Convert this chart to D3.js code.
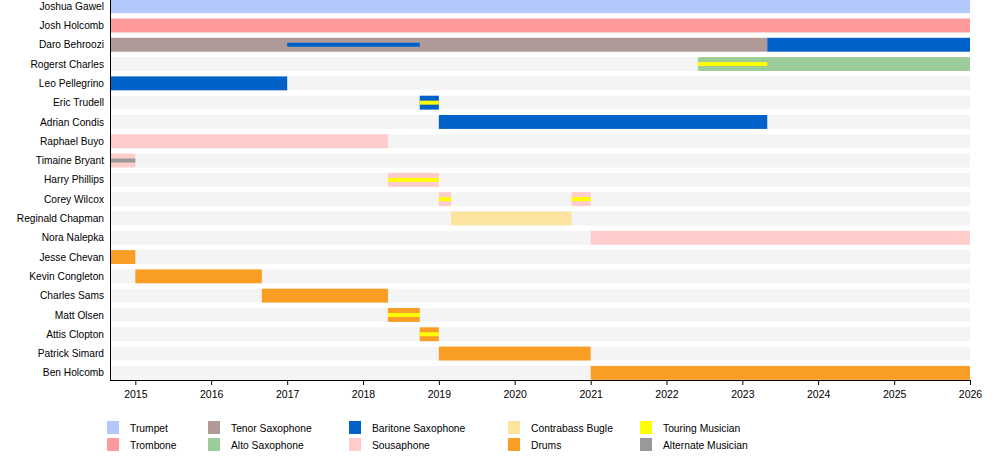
<!DOCTYPE html>
<html>
<head>
<meta charset="utf-8">
<script src="https://cdn.jsdelivr.net/npm/d3@7.9.0/dist/d3.min.js"></script>
<style>
  body { margin: 0; background: #fff; }
  svg { display: block; font-family: "Liberation Sans", Arial, sans-serif; }
  .name { font-size: 10.2px; fill: #000; }
  .axis text { font-size: 10.5px; fill: #000; font-family: "Liberation Sans", Arial, sans-serif; }
  .legend text { font-size: 10.3px; fill: #000; }
</style>
</head>
<body>
<div id="chart"></div>
<script>
// ─── data ───────────────────────────────────────
const members = [
  'Joshua Gawel', 'Josh Holcomb', 'Daro Behroozi', 'Rogerst Charles', 'Leo Pellegrino',
  'Eric Trudell', 'Adrian Condis', 'Raphael Buyo', 'Timaine Bryant', 'Harry Phillips',
  'Corey Wilcox', 'Reginald Chapman', 'Nora Nalepka', 'Jesse Chevan', 'Kevin Congleton',
  'Charles Sams', 'Matt Olsen', 'Attis Clopton', 'Patrick Simard', 'Ben Holcomb'
];

const roles = [
  'Trumpet', 'Trombone', 'Tenor Saxophone', 'Alto Saxophone', 'Baritone Saxophone',
  'Sousaphone', 'Contrabass Bugle', 'Drums', 'Touring Musician', 'Alternate Musician'
];
const roleColors = [
  '#b4c8fc', '#ff9a9a', '#b09a98', '#9ccc9a', '#0062c8',
  '#ffcccc', '#fde49e', '#fa9d24', '#ffff00', '#999999'
];

const timeStart = '2014-09-01';
const timeEnd   = '2026-01-01';
const tickYears = [2015, 2016, 2017, 2018, 2019, 2020, 2021, 2022, 2023, 2024, 2025, 2026];

// [member, role, from, to]
const mainPeriods = [
  ['Joshua Gawel',    'Trumpet',            '2014-09-01', '2026-01-01'],
  ['Josh Holcomb',    'Trombone',           '2014-09-01', '2026-01-01'],
  ['Daro Behroozi',   'Tenor Saxophone',    '2014-09-01', '2023-05-01'],
  ['Daro Behroozi',   'Baritone Saxophone', '2023-05-01', '2026-01-01'],
  ['Rogerst Charles', 'Alto Saxophone',     '2022-06-01', '2026-01-01'],
  ['Leo Pellegrino',  'Baritone Saxophone', '2014-09-01', '2017-01-01'],
  ['Eric Trudell',    'Baritone Saxophone', '2018-10-01', '2019-01-01'],
  ['Adrian Condis',   'Baritone Saxophone', '2019-01-01', '2023-05-01'],
  ['Raphael Buyo',    'Sousaphone',         '2014-09-01', '2018-05-01'],
  ['Timaine Bryant',  'Sousaphone',         '2014-09-01', '2015-01-01'],
  ['Harry Phillips',  'Sousaphone',         '2018-05-01', '2019-01-01'],
  ['Corey Wilcox',    'Sousaphone',         '2019-01-01', '2019-03-01'],
  ['Corey Wilcox',    'Sousaphone',         '2020-10-01', '2021-01-01'],
  ['Reginald Chapman','Contrabass Bugle',   '2019-03-01', '2020-10-01'],
  ['Nora Nalepka',    'Sousaphone',         '2021-01-01', '2026-01-01'],
  ['Jesse Chevan',    'Drums',              '2014-09-01', '2015-01-01'],
  ['Kevin Congleton', 'Drums',              '2015-01-01', '2016-09-01'],
  ['Charles Sams',    'Drums',              '2016-09-01', '2018-05-01'],
  ['Matt Olsen',      'Drums',              '2018-05-01', '2018-10-01'],
  ['Attis Clopton',   'Drums',              '2018-10-01', '2019-01-01'],
  ['Patrick Simard',  'Drums',              '2019-01-01', '2021-01-01'],
  ['Ben Holcomb',     'Drums',              '2021-01-01', '2026-01-01']
];

// thin overlay bars
const thinPeriods = [
  ['Daro Behroozi',   'Baritone Saxophone', '2017-01-01', '2018-10-01'],
  ['Rogerst Charles', 'Touring Musician',   '2022-06-01', '2023-05-01'],
  ['Eric Trudell',    'Touring Musician',   '2018-10-01', '2019-01-01'],
  ['Timaine Bryant',  'Alternate Musician', '2014-09-01', '2015-01-01'],
  ['Harry Phillips',  'Touring Musician',   '2018-05-01', '2019-01-01'],
  ['Corey Wilcox',    'Touring Musician',   '2019-01-01', '2019-03-01'],
  ['Corey Wilcox',    'Touring Musician',   '2020-10-01', '2021-01-01'],
  ['Matt Olsen',      'Touring Musician',   '2018-05-01', '2018-10-01'],
  ['Attis Clopton',   'Touring Musician',   '2018-10-01', '2019-01-01']
];

// legend layout: columns of role indices
const legendColumns = [[0, 1], [2, 3], [4, 5], [6, 7], [8, 9]];

// ─── drawing ────────────────────────────────────
const W = 1000, H = 458;
const plot = { left: 110, right: 970, top: -6.2, bottom: 385.2, axisY: 380 };

const svg = d3.select('#chart').append('svg')
  .attr('width', W).attr('height', H);

const parse = d3.timeParse('%Y-%m-%d');

const x = d3.scaleTime()
  .domain([parse(timeStart), parse(timeEnd)])
  .range([plot.left, plot.right]);

const y = d3.scaleBand()
  .domain(members)
  .range([plot.top, plot.bottom])
  .padding(0.28);

const color = d3.scaleOrdinal().domain(roles).range(roleColors);

// grey background rows
svg.append('g').selectAll('rect')
  .data(members)
  .join('rect')
    .attr('x', plot.left)
    .attr('y', d => y(d))
    .attr('width', plot.right - plot.left)
    .attr('height', y.bandwidth())
    .attr('fill', '#f4f4f4');

// main bars
svg.append('g').selectAll('rect')
  .data(mainPeriods)
  .join('rect')
    .attr('x', d => x(parse(d[2])))
    .attr('y', d => y(d[0]))
    .attr('width', d => x(parse(d[3])) - x(parse(d[2])))
    .attr('height', y.bandwidth())
    .attr('fill', d => color(d[1]));

// thin bars
const thinH = 4;
svg.append('g').selectAll('rect')
  .data(thinPeriods)
  .join('rect')
    .attr('x', d => x(parse(d[2])))
    .attr('y', d => y(d[0]) + y.bandwidth() / 2 - thinH / 2)
    .attr('width', d => x(parse(d[3])) - x(parse(d[2])))
    .attr('height', thinH)
    .attr('fill', d => color(d[1]));

// member names
svg.append('g').selectAll('text')
  .data(members)
  .join('text')
    .attr('class', 'name')
    .attr('x', plot.left - 6)
    .attr('y', d => y(d) + y.bandwidth() / 2)
    .attr('dy', '0.35em')
    .attr('text-anchor', 'end')
    .text(d => d);

// axes
const xAxis = d3.axisBottom(x)
  .tickValues(tickYears.map(yr => new Date(yr, 0, 1)))
  .tickFormat(d3.timeFormat('%Y'))
  .tickSize(5)
  .tickSizeOuter(0);

const gx = svg.append('g')
  .attr('class', 'axis')
  .attr('transform', `translate(0,${plot.axisY})`)
  .call(xAxis);
gx.select('.domain').attr('stroke', '#000').attr('d', `M${plot.left},0.5H${plot.right}`);
gx.selectAll('.tick line').attr('stroke', '#000');
gx.selectAll('.tick text').attr('dy', '0.95em');

svg.append('line')
  .attr('x1', plot.left + 0.5).attr('x2', plot.left + 0.5)
  .attr('y1', 0).attr('y2', plot.axisY + 1)
  .attr('stroke', '#000');

// legend
const colX = [107, 208, 349, 508, 640];
const rowY = [421, 438];
const legend = svg.append('g').attr('class', 'legend');
legendColumns.forEach((col, ci) => {
  col.forEach((ri, rj) => {
    const g = legend.append('g')
      .attr('transform', `translate(${colX[ci]},${rowY[rj]})`);
    g.append('rect')
      .attr('width', 12).attr('height', 13)
      .attr('fill', roleColors[ri]);
    g.append('text')
      .attr('x', 23).attr('y', 7.5)
      .attr('dy', '0.35em')
      .text(roles[ri]);
  });
});
</script>
</body>
</html>
